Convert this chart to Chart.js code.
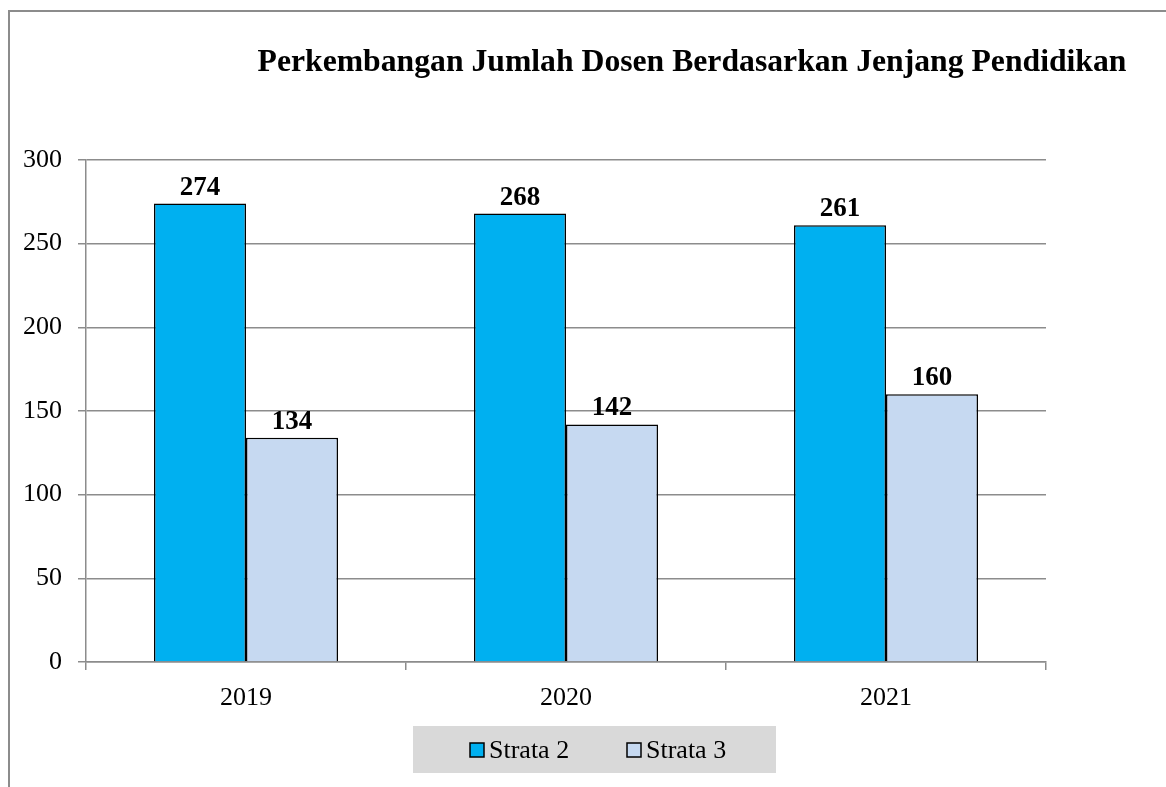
<!DOCTYPE html>
<html lang="en">
<head>
  <meta charset="UTF-8" />
  <title>Perkembangan Jumlah Dosen</title>
  <style>
    html, body { margin: 0; padding: 0; background: #fff; }
    #wrap { width: 1166px; height: 787px; }
  </style>
</head>
<body>
  <div id="wrap"><canvas id="myChart" width="1166" height="787"></canvas></div>

  <script src="https://cdn.jsdelivr.net/npm/chart.js"></script>
  <script>
    const years = ["2019", "2020", "2021"];
    const strata2 = [274, 268, 261];
    const strata3 = [134, 142, 160];
    const titleText = "Perkembangan Jumlah Dosen Berdasarkan Jenjang Pendidikan";

    const serif = "'Liberation Serif', 'Times New Roman', serif";

    // frame, title, legend and bar labels
    const extras = {
      id: "extras",
      beforeDraw(chart) {
        const c = chart.ctx;
        c.save();
        c.fillStyle = "#fff";
        c.fillRect(0, 0, chart.width, chart.height);
        c.strokeStyle = "#8c8c8c";
        c.lineWidth = 2;
        c.beginPath();
        c.moveTo(9, chart.height);
        c.lineTo(9, 11);
        c.lineTo(chart.width, 11);
        c.stroke();
        c.restore();
      },
      afterDraw(chart) {
        const c = chart.ctx;
        c.save();
        // legend
        c.fillStyle = "#d9d9d9";
        c.fillRect(413, 726, 363, 47);
        const lx = [470, 627];
        c.font = "26px " + serif;
        c.textBaseline = "alphabetic";
        c.textAlign = "left";
        chart.data.datasets.forEach((ds, i) => {
          c.fillStyle = ds.backgroundColor;
          c.fillRect(lx[i], 743, 14, 14);
          c.strokeStyle = "#000";
          c.lineWidth = 1.5;
          c.strokeRect(lx[i], 743, 14, 14);
          c.fillStyle = "#000";
          c.fillText(ds.label, lx[i] + 19, 758);
        });
        c.restore();
      },
      afterDatasetsDraw(chart) {
        const c = chart.ctx;
        c.save();
        c.fillStyle = "#000";
        c.font = "bold 27px " + serif;
        c.textAlign = "center";
        c.textBaseline = "alphabetic";
        chart.data.datasets.forEach((ds, i) => {
          chart.getDatasetMeta(i).data.forEach((bar, j) => {
            c.fillText(ds.data[j], bar.x, bar.y - 9);
          });
        });
        c.font = "bold 31.7px " + serif;
        c.textBaseline = "middle";
        c.fillText(titleText, 692, 63);
        c.restore();
      }
    };

    new Chart(document.getElementById("myChart"), {
      type: "bar",
      data: {
        labels: years,
        datasets: [
          {
            label: "Strata 2",
            data: strata2,
            backgroundColor: "#00b0f0",
            borderColor: "#000",
            borderWidth: 1.5,
          },
          {
            label: "Strata 3",
            data: strata3,
            backgroundColor: "#c6d9f1",
            borderColor: "#000",
            borderWidth: 1.5,
          },
        ],
      },
      options: {
        responsive: false,
        animation: false,
        layout: { padding: { left: 0, right: 120, top: 160, bottom: 63 } },
        categoryPercentage: 0.575,
        barPercentage: 1,
        plugins: {
          title: { display: false },
          tooltip: { enabled: false },
          legend: { display: false },
        },
        scales: {
          x: {
            grid: { display: true, drawOnChartArea: false, color: "#8c8c8c", lineWidth: 1.5, tickLength: 8, offset: true },
            border: { color: "#8c8c8c", width: 1.5 },
            ticks: { color: "#000", font: { family: serif, size: 26 }, padding: 13 },
            afterFit: (s) => { s.height = 62; },
          },
          y: {
            min: 0,
            max: 300,
            ticks: { stepSize: 50, color: "#000", font: { family: serif, size: 26 }, padding: 16 },
            grid: { color: "#8c8c8c", lineWidth: 1.5, tickLength: 8 },
            border: { color: "#8c8c8c", width: 1.5 },
            afterFit: (s) => { s.width = 86; },
          },
        },
      },
      plugins: [extras],
    });
  </script>
</body>
</html>
